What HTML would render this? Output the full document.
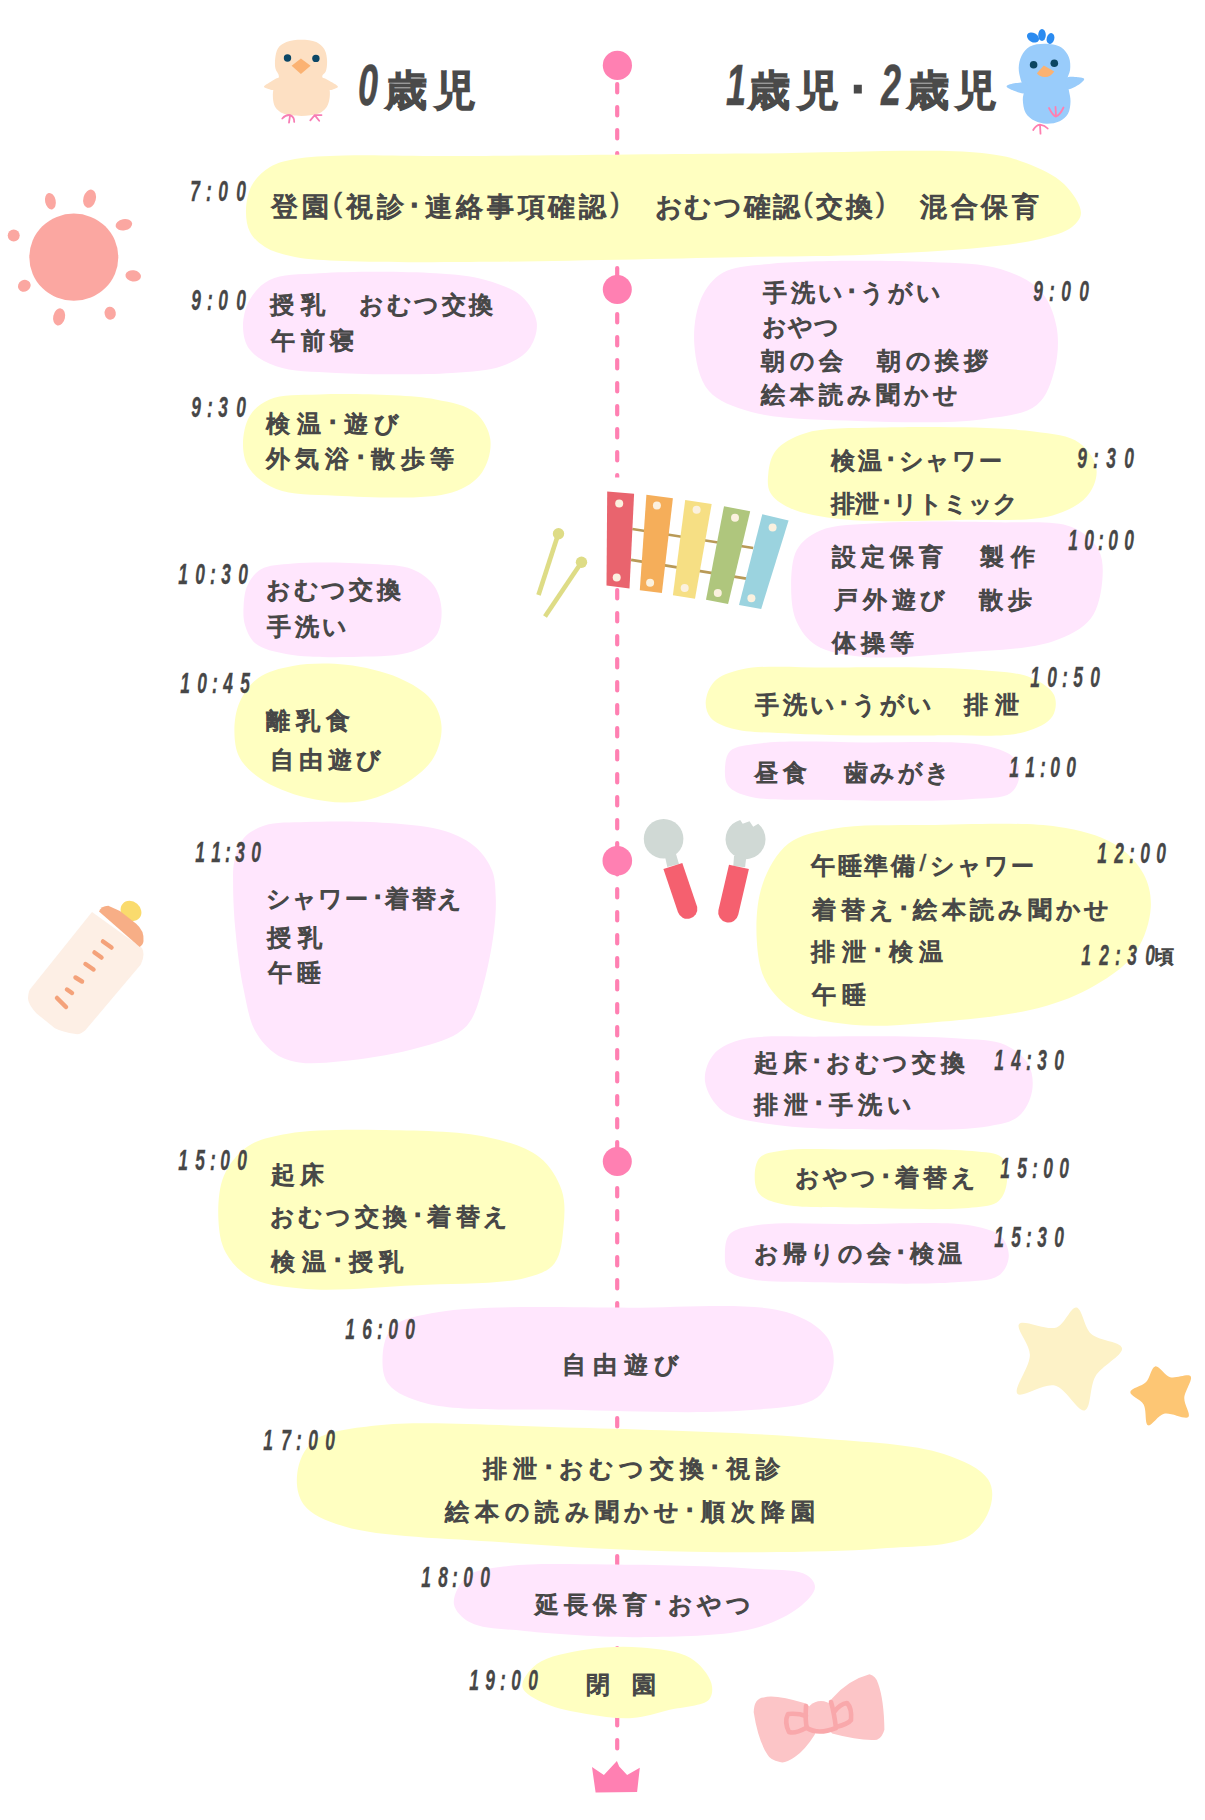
<!DOCTYPE html>
<html><head><meta charset="utf-8"><style>
@font-face{font-family:"Liberation Sans L";src:local("Liberation Sans"),local("LiberationSans");size-adjust:140%}
html,body{margin:0;padding:0;background:#fff}
body{width:1205px;height:1820px;position:relative;overflow:hidden;font-family:"Liberation Sans",sans-serif;color:#474747}
svg{position:absolute;left:0;top:0}
.t i,.d i,.h i{position:absolute;font-style:normal;width:60px;text-align:center;line-height:1;white-space:nowrap}
.t i,.h i{font-family:"Liberation Sans L","Liberation Sans",sans-serif;-webkit-text-stroke:1.2px #474747}
.t i.p{font-family:"Liberation Sans",sans-serif;-webkit-text-stroke:0.5px #474747}
.d i{font-style:italic;font-weight:bold;transform:scaleX(.6);-webkit-text-stroke:0.3px #474747}
.h i{-webkit-text-stroke:2.4px #4a4a4a;color:#4a4a4a}
.h i.n{font-family:"Liberation Sans",sans-serif;font-weight:bold;font-style:italic;font-size:58px;transform:scaleX(.62);-webkit-text-stroke:0.5px #4a4a4a}
</style></head><body>
<svg width="1205" height="1820" viewBox="0 0 1205 1820">
<path d="M617.2,84.1 V1752" stroke="#FF80B2" stroke-width="4.2" stroke-linecap="round" stroke-dasharray="8.3 14.7" fill="none"/><rect x="608" y="477.5" width="18" height="14" fill="#fff"/>
<g fill="#FF80B2"><circle cx="617.4" cy="65.4" r="14.6"/><circle cx="617.3" cy="289.4" r="14.5"/><circle cx="617.3" cy="860.8" r="14.8"/><circle cx="617.3" cy="1161.4" r="14.5"/>
<path d="M592,1767.1 L603.9,1775 L616.9,1761.1 L619.2,1766.4 L627.1,1775 L639.8,1767.7 L637.1,1792 L595.6,1792.6Z"/></g>
<path fill="#FFFFC1" d="M246.0,210.0 C246.2,201.9 248.0,192.2 252.0,185.0 C256.0,177.9 262.9,171.3 270.0,167.0 C277.2,162.6 285.1,160.9 295.0,159.0 C308.5,156.4 324.5,156.1 344.0,155.5 C372.6,154.5 405.7,156.1 450.0,156.0 C524.6,155.9 656.4,154.0 750.0,153.5 C832.3,153.1 935.3,147.8 982.0,153.0 C1002.6,155.3 1012.2,157.7 1026.0,163.0 C1039.5,168.2 1054.6,174.9 1064.0,184.0 C1072.2,192.0 1081.2,205.1 1081.0,213.0 C1080.9,218.5 1076.8,223.1 1072.0,227.0 C1065.1,232.6 1052.4,235.8 1040.0,239.0 C1023.7,243.2 1004.7,245.1 982.0,247.5 C950.0,250.8 904.7,253.1 866.0,254.7 C827.4,256.3 797.1,256.1 750.0,257.0 C676.9,258.4 544.9,261.6 470.0,262.0 C419.7,262.2 376.2,262.4 344.0,261.0 C323.9,260.1 309.2,259.9 295.0,257.0 C283.6,254.7 272.9,251.9 265.0,247.0 C258.6,243.0 253.2,238.1 250.0,232.0 C246.7,225.8 245.8,217.5 246.0,210.0Z"/><path fill="#FFE6FD" d="M243.0,326.4 C242.9,317.9 245.3,307.5 249.7,299.8 C254.1,292.0 260.5,284.5 269.6,280.0 C281.8,274.0 299.3,274.6 319.4,273.3 C350.0,271.3 405.0,271.3 435.6,273.3 C455.7,274.6 470.4,275.7 485.4,280.0 C498.8,283.8 513.2,288.5 521.9,296.5 C529.5,303.5 535.8,313.9 536.8,323.0 C537.7,331.7 534.0,342.5 528.5,349.6 C522.7,357.1 512.7,362.1 502.0,366.0 C488.4,370.9 472.2,371.5 452.0,372.9 C421.4,375.0 368.3,374.7 336.0,372.9 C312.8,371.6 291.7,371.6 276.2,366.2 C265.0,362.3 255.2,356.9 249.7,349.6 C244.9,343.2 243.1,334.4 243.0,326.4Z"/><path fill="#FFFFC1" d="M243.0,445.9 C242.7,436.6 244.9,423.9 249.7,416.0 C254.1,408.7 260.7,403.1 269.6,399.4 C281.9,394.2 299.3,395.0 319.4,394.4 C350.0,393.5 407.3,394.2 435.6,399.4 C452.6,402.5 466.1,405.0 475.4,412.7 C483.3,419.2 489.0,429.7 490.3,439.3 C491.7,449.5 488.2,463.6 482.0,472.4 C475.6,481.4 466.1,487.9 452.0,492.4 C426.6,500.5 368.3,497.0 336.0,495.7 C312.8,494.7 291.5,495.1 276.2,489.0 C264.8,484.5 255.2,477.0 249.7,469.0 C245.0,462.2 243.3,454.1 243.0,445.9Z"/><path fill="#FFE6FD" d="M243.6,606.4 C244.0,599.5 244.6,591.3 247.6,585.0 C250.5,578.9 254.7,572.8 261.0,569.2 C268.8,564.7 279.7,564.5 292.8,563.4 C313.3,561.6 350.4,562.5 372.4,564.0 C388.0,565.1 401.5,564.8 412.3,569.2 C421.0,572.7 428.6,578.3 433.5,585.0 C438.3,591.6 441.0,600.7 441.5,609.0 C442.0,617.6 440.9,628.6 436.2,635.6 C431.4,642.8 422.4,647.9 412.3,651.5 C398.5,656.4 378.2,656.2 359.2,656.8 C337.1,657.5 306.4,657.6 287.5,654.2 C274.5,651.9 262.8,649.5 255.6,643.6 C249.9,638.9 247.0,631.4 245.0,625.0 C243.2,619.0 243.2,612.8 243.6,606.4Z"/><path fill="#FFFFC1" d="M234.4,731.2 C234.3,721.7 235.8,710.8 239.7,702.0 C243.7,693.1 250.1,683.9 258.3,678.0 C267.3,671.5 279.9,668.3 292.8,666.0 C308.4,663.2 328.3,662.9 345.9,664.8 C363.7,666.8 384.0,671.4 399.0,678.0 C411.5,683.5 423.8,690.5 430.9,699.3 C437.1,706.9 440.9,716.5 441.5,725.9 C442.2,735.9 439.1,748.4 433.5,757.8 C427.3,768.1 415.9,777.2 404.3,784.3 C391.5,792.2 375.1,799.3 359.2,801.6 C342.5,804.1 322.7,801.6 306.0,797.6 C290.1,793.8 272.7,786.8 261.0,779.0 C251.8,772.9 244.1,766.0 239.7,757.8 C235.5,750.0 234.5,740.3 234.4,731.2Z"/><path fill="#FFE6FD" d="M233.1,884.7 C233.1,875.6 232.6,869.1 234.3,861.5 C236.0,853.6 238.5,844.2 243.6,838.2 C248.6,832.3 255.9,828.3 264.5,825.5 C275.7,821.9 290.1,822.6 306.3,822.0 C328.9,821.2 362.9,821.2 387.7,823.1 C408.7,824.7 429.8,826.1 445.7,831.3 C457.8,835.3 468.1,840.5 476.0,847.5 C483.2,853.9 488.9,862.4 492.2,870.8 C495.3,878.8 495.3,887.4 495.7,896.3 C496.2,905.9 495.7,915.2 494.5,926.5 C492.9,941.4 489.3,961.6 485.2,977.7 C481.4,992.5 477.3,1009.8 471.3,1019.5 C467.3,1026.0 464.0,1029.2 457.4,1033.4 C446.9,1040.0 428.2,1045.3 410.9,1049.7 C390.2,1055.0 361.5,1059.3 341.2,1061.3 C325.6,1062.8 311.2,1064.3 299.4,1062.5 C290.4,1061.1 283.1,1059.0 276.1,1054.3 C268.2,1049.0 260.5,1040.7 255.2,1031.1 C249.0,1019.8 246.8,1004.5 243.6,989.3 C239.9,971.6 237.2,949.5 235.5,931.2 C233.9,914.9 233.1,897.5 233.1,884.7Z"/><path fill="#FFFFC1" d="M218.4,1219.5 C217.8,1206.0 218.6,1188.2 223.9,1175.7 C228.8,1164.2 237.4,1153.5 247.6,1146.5 C258.4,1139.1 271.5,1136.6 287.8,1133.7 C311.8,1129.5 347.2,1129.6 379.0,1130.0 C413.9,1130.5 459.3,1130.8 488.6,1137.4 C509.3,1142.0 527.3,1147.4 539.8,1157.5 C550.4,1166.0 557.8,1178.5 561.7,1190.3 C565.5,1201.7 564.7,1214.7 563.5,1226.8 C562.3,1239.1 561.3,1254.8 554.4,1263.4 C548.0,1271.4 538.5,1274.4 525.2,1278.0 C500.8,1284.6 452.1,1283.5 415.6,1285.3 C379.1,1287.1 336.1,1291.5 306.0,1289.0 C284.5,1287.2 265.3,1285.5 251.3,1278.0 C240.0,1272.0 231.2,1262.4 225.7,1252.4 C220.4,1242.8 219.0,1231.3 218.4,1219.5Z"/><path fill="#FFE6FD" d="M701.4,297.8 C706.2,287.4 713.0,278.5 722.8,272.8 C734.5,266.0 749.0,265.9 769.2,263.9 C806.5,260.1 887.0,260.2 929.8,262.1 C958.4,263.4 981.4,263.2 1001.2,269.3 C1016.8,274.1 1031.1,280.7 1040.4,290.7 C1049.1,300.1 1054.0,313.6 1056.5,326.4 C1059.1,339.7 1058.1,355.9 1054.7,369.2 C1051.4,382.0 1047.0,396.6 1036.8,404.9 C1024.8,414.7 1005.1,416.2 983.3,419.2 C950.6,423.7 898.4,422.3 858.4,420.9 C821.3,419.6 778.5,419.6 751.4,412.0 C733.3,406.9 718.0,401.8 708.5,390.6 C698.9,379.3 695.4,359.8 694.3,344.2 C693.2,328.9 695.7,310.3 701.4,297.8Z"/><path fill="#FFFFC1" d="M768.3,473.4 C769.1,466.0 770.8,456.9 775.9,450.5 C781.9,443.0 792.1,437.3 804.5,433.4 C823.3,427.4 851.0,428.4 880.9,427.6 C923.1,426.5 997.8,426.6 1033.6,431.5 C1053.5,434.2 1068.7,435.2 1079.4,442.9 C1088.2,449.2 1095.5,460.4 1096.5,469.6 C1097.5,478.3 1093.2,489.0 1087.0,496.3 C1079.7,504.9 1067.6,511.1 1052.6,515.4 C1029.3,522.0 990.5,519.3 957.2,520.0 C920.8,520.8 873.5,522.7 842.7,519.3 C821.4,517.0 802.1,513.9 789.3,507.8 C780.7,503.7 773.6,498.7 770.2,492.5 C767.2,487.0 767.6,480.0 768.3,473.4Z"/><path fill="#FFE6FD" d="M791.2,591.8 C790.9,578.9 791.1,560.3 796.9,549.8 C801.8,541.0 809.5,535.2 819.8,530.7 C834.6,524.3 857.3,524.6 880.9,523.0 C913.1,520.9 961.1,521.4 995.4,522.3 C1023.4,523.1 1053.6,519.6 1071.7,526.9 C1084.0,531.9 1093.5,540.5 1098.5,549.8 C1103.2,558.5 1103.2,569.7 1102.3,580.3 C1101.3,592.4 1098.6,608.4 1090.8,618.5 C1082.5,629.1 1068.9,635.8 1052.6,641.4 C1028.6,649.6 989.1,650.4 957.2,652.9 C925.5,655.4 887.7,659.4 861.8,656.7 C843.6,654.8 827.2,652.2 816.0,645.2 C807.1,639.6 801.0,631.1 796.9,622.3 C792.7,613.3 791.5,602.8 791.2,591.8Z"/><path fill="#FFFFC1" d="M705.7,702.3 C705.9,695.8 709.1,686.8 714.4,681.4 C720.5,675.2 730.1,671.9 742.3,669.2 C763.0,664.7 797.0,667.5 829.4,667.4 C870.4,667.2 931.5,666.4 968.8,669.2 C993.9,671.1 1016.5,671.6 1031.6,677.9 C1041.7,682.2 1051.1,688.2 1054.2,695.3 C1056.9,701.3 1056.2,710.5 1052.5,716.2 C1048.0,723.3 1037.1,728.4 1024.6,731.9 C1003.5,737.9 967.4,735.0 934.0,735.4 C892.5,735.9 831.9,735.5 794.6,733.7 C769.5,732.5 746.8,732.6 731.8,728.4 C722.6,725.8 715.2,723.0 710.9,718.0 C707.3,713.8 705.5,707.9 705.7,702.3Z"/><path fill="#FFE6FD" d="M724.9,770.3 C725.1,764.2 725.6,755.6 730.1,751.1 C735.7,745.6 746.7,745.1 759.7,743.4 C783.8,740.2 828.1,742.1 864.3,742.4 C903.4,742.8 960.3,740.1 986.3,745.9 C999.3,748.8 1008.9,752.0 1014.2,758.0 C1018.3,762.7 1019.9,769.8 1019.4,775.5 C1018.9,781.4 1016.3,788.9 1010.7,792.9 C1002.5,798.9 986.9,797.8 968.8,799.2 C936.0,801.7 869.5,800.7 829.4,799.9 C799.0,799.3 767.1,801.0 749.3,796.4 C739.7,793.9 732.2,790.9 728.3,785.9 C725.1,781.7 724.8,775.8 724.9,770.3Z"/><path fill="#FFFFC1" d="M756.8,940.7 C755.7,923.6 756.7,901.3 762.4,884.7 C767.7,869.2 776.5,852.9 788.5,843.6 C800.3,834.4 815.5,832.0 833.4,828.7 C858.6,824.1 893.0,825.4 926.7,825.0 C966.6,824.5 1023.2,821.5 1057.4,826.8 C1080.3,830.3 1098.5,834.7 1113.4,843.6 C1126.1,851.2 1137.1,862.2 1143.3,873.5 C1148.9,883.7 1151.4,895.2 1150.8,907.1 C1150.1,921.1 1144.6,939.1 1135.8,951.9 C1126.4,965.5 1110.3,976.3 1094.8,985.5 C1078.2,995.3 1061.0,1002.0 1038.7,1007.9 C1008.2,1015.9 960.3,1020.3 926.7,1022.9 C899.4,1025.1 875.0,1027.1 852.0,1024.7 C831.9,1022.6 810.9,1020.0 796.0,1011.7 C783.2,1004.6 772.6,993.6 766.1,981.8 C759.6,970.0 757.7,955.5 756.8,940.7Z"/><path fill="#FFE6FD" d="M705.0,1081.4 C703.9,1072.5 707.7,1061.7 713.2,1054.9 C719.0,1047.7 728.0,1043.4 739.8,1040.0 C759.4,1034.5 791.9,1037.0 822.8,1036.6 C861.9,1036.1 922.0,1035.8 955.6,1038.3 C976.2,1039.8 992.6,1039.3 1005.4,1045.0 C1015.4,1049.5 1024.2,1056.7 1028.6,1064.8 C1032.7,1072.4 1033.6,1082.9 1032.0,1091.4 C1030.4,1100.1 1025.5,1110.5 1018.6,1116.3 C1011.3,1122.4 1001.9,1123.9 988.8,1126.2 C965.5,1130.4 923.7,1129.8 889.2,1129.6 C852.0,1129.4 803.4,1129.3 773.0,1124.6 C752.7,1121.5 734.7,1119.9 723.2,1111.3 C713.7,1104.2 706.2,1091.3 705.0,1081.4Z"/><path fill="#FFFFC1" d="M754.7,1177.7 C754.6,1171.4 755.4,1162.3 759.7,1157.8 C764.4,1152.9 772.9,1152.1 783.0,1150.5 C800.4,1147.7 828.9,1149.5 856.0,1149.5 C890.3,1149.5 946.3,1148.0 972.2,1151.1 C985.5,1152.7 996.3,1152.1 1002.0,1157.8 C1007.0,1162.8 1007.7,1173.7 1007.0,1181.0 C1006.4,1188.0 1003.9,1196.5 998.7,1200.9 C992.9,1205.9 984.3,1206.1 972.2,1207.6 C947.3,1210.7 890.2,1208.4 856.0,1207.6 C828.8,1207.0 800.3,1208.3 783.0,1204.3 C772.8,1202.0 764.3,1199.5 759.7,1194.3 C755.9,1190.0 754.8,1183.5 754.7,1177.7Z"/><path fill="#FFE6FD" d="M724.9,1254.0 C725.0,1247.7 725.4,1238.8 729.8,1234.1 C734.9,1228.5 744.5,1227.2 756.4,1225.2 C778.8,1221.4 821.5,1224.1 856.0,1224.2 C893.2,1224.3 946.5,1220.8 972.2,1225.8 C985.7,1228.4 996.0,1231.1 1002.0,1237.4 C1006.8,1242.5 1009.3,1251.0 1008.7,1257.4 C1008.1,1263.7 1004.7,1271.4 998.7,1275.6 C990.0,1281.7 974.0,1280.9 955.6,1282.3 C923.5,1284.8 860.5,1283.2 822.8,1282.3 C794.8,1281.7 766.7,1282.6 749.8,1279.0 C740.3,1277.0 732.2,1275.4 728.2,1270.6 C724.8,1266.5 724.8,1259.8 724.9,1254.0Z"/><path fill="#FFE6FD" d="M382.5,1359.4 C382.7,1349.4 384.5,1335.5 392.0,1327.8 C401.2,1318.3 417.8,1315.7 439.2,1312.0 C480.9,1304.7 568.2,1307.6 628.4,1307.7 C683.4,1307.8 751.5,1301.7 786.1,1312.0 C805.2,1317.7 819.6,1326.8 827.1,1337.3 C832.9,1345.5 834.6,1356.2 833.4,1365.7 C832.1,1376.2 827.2,1389.8 817.6,1397.2 C804.6,1407.1 781.4,1407.1 754.6,1409.8 C708.6,1414.4 623.6,1411.1 565.4,1409.8 C515.5,1408.7 457.8,1411.6 426.6,1403.5 C409.4,1399.0 395.8,1393.4 388.8,1384.6 C383.3,1377.7 382.3,1368.2 382.5,1359.4Z"/><path fill="#FFFFC1" d="M297.3,1472.9 C298.7,1462.1 303.5,1449.1 313.1,1441.4 C326.1,1431.0 349.2,1428.8 376.1,1425.6 C422.0,1420.2 497.8,1425.7 565.4,1427.5 C643.5,1429.5 748.0,1432.4 817.6,1438.2 C867.0,1442.3 913.2,1443.8 943.8,1454.0 C963.1,1460.4 981.1,1468.8 988.0,1479.2 C992.9,1486.6 993.1,1495.9 991.0,1504.4 C988.4,1514.8 981.1,1528.5 969.0,1536.0 C950.6,1547.3 915.8,1545.8 880.7,1548.6 C829.6,1552.6 754.5,1552.7 691.5,1551.7 C628.4,1550.7 562.4,1546.8 502.3,1542.3 C447.3,1538.2 379.4,1537.2 344.6,1526.5 C325.7,1520.7 311.2,1514.6 303.6,1504.4 C297.3,1495.9 295.9,1483.2 297.3,1472.9Z"/><path fill="#FFE6FD" d="M453.9,1603.9 C452.8,1596.1 459.1,1583.2 466.4,1577.0 C474.7,1569.9 488.0,1568.9 503.7,1566.6 C529.5,1562.8 570.0,1564.3 607.5,1564.5 C651.9,1564.7 716.1,1566.1 752.7,1568.7 C775.1,1570.3 796.9,1569.0 806.6,1574.9 C811.7,1578.0 815.2,1582.7 815.0,1587.3 C814.8,1593.4 806.2,1602.0 798.3,1608.1 C787.5,1616.5 771.5,1623.9 752.7,1628.8 C725.6,1635.8 685.2,1636.6 649.0,1637.1 C609.4,1637.7 557.4,1634.2 524.5,1630.9 C502.7,1628.7 482.6,1629.2 470.5,1622.6 C462.3,1618.1 455.0,1611.1 453.9,1603.9Z"/><path fill="#FFFFC1" d="M522.4,1686.9 C521.2,1680.4 529.1,1670.0 536.9,1664.1 C547.7,1656.0 569.6,1652.4 586.7,1649.6 C604.2,1646.8 623.2,1646.0 640.7,1647.5 C657.7,1648.9 678.3,1650.6 690.5,1657.9 C700.2,1663.7 708.9,1674.9 711.2,1682.8 C712.9,1688.5 712.8,1695.2 709.1,1699.4 C703.3,1706.0 682.7,1706.7 669.7,1709.8 C657.1,1712.8 645.5,1717.2 632.4,1718.0 C618.0,1718.9 601.5,1716.4 586.7,1713.9 C572.4,1711.5 556.6,1708.8 545.2,1703.5 C536.0,1699.2 523.7,1693.6 522.4,1686.9Z"/>
<g id="sun" fill="#FBA7A1">
<ellipse cx="73.8" cy="257.2" rx="44.5" ry="43.6"/>
<ellipse cx="50.4" cy="201.2" rx="5.3" ry="8.4" transform="rotate(-12 50.4 201.2)"/>
<ellipse cx="89.6" cy="198.7" rx="6.2" ry="9.3" transform="rotate(15 89.6 198.7)"/>
<ellipse cx="123.9" cy="224.8" rx="8.4" ry="5.6" transform="rotate(-10 123.9 224.8)"/>
<ellipse cx="13.7" cy="235.4" rx="6" ry="6"/>
<ellipse cx="133.2" cy="275.9" rx="7.8" ry="5.6" transform="rotate(8 133.2 275.9)"/>
<ellipse cx="24.3" cy="285.8" rx="6.5" ry="5.8" transform="rotate(-30 24.3 285.8)"/>
<ellipse cx="59.1" cy="316.9" rx="5.9" ry="8.7" transform="rotate(12 59.1 316.9)"/>
<ellipse cx="110.2" cy="313.2" rx="5.6" ry="6.5" transform="rotate(-10 110.2 313.2)"/>
</g>
<g id="chick">
<path fill="#FDE0C3" d="M301.3,39.7 C306.3,39.7 312.2,40.1 316.2,42.0 C319.7,43.6 322.7,46.3 324.5,49.4 C326.4,52.7 327.0,57.5 327.1,61.4 C327.2,65.0 326.7,69.2 325.6,71.8 C324.8,73.7 322.3,74.5 322.2,76.3 C322.1,79.0 327.7,83.1 328.9,86.8 C330.0,90.1 330.1,93.8 329.7,97.2 C329.3,100.5 328.5,104.2 326.7,106.9 C324.8,109.7 322.0,112.1 318.5,113.6 C314.0,115.5 307.1,115.9 301.3,115.9 C295.4,115.9 288.0,115.6 283.4,113.6 C279.9,112.1 276.9,109.7 275.2,106.9 C273.5,104.2 273.1,100.5 272.9,97.2 C272.7,93.8 273.1,90.2 274.0,86.8 C275.0,83.2 278.9,79.5 278.9,76.3 C278.9,73.6 276.1,71.6 275.5,68.8 C274.8,65.7 274.8,61.8 275.2,58.4 C275.6,54.9 276.3,50.7 278.2,47.9 C280.1,45.2 283.1,43.4 286.4,42.0 C290.5,40.3 296.3,39.7 301.3,39.7Z"/><path fill="#FDE0C3" d="M264.0,86.8 C263.9,85.6 267.7,83.7 269.9,82.3 C272.5,80.7 277.9,76.9 278.9,77.8 C280.0,78.8 276.7,88.3 274.4,89.7 C272.8,90.7 270.2,89.5 268.4,89.0 C266.8,88.5 264.1,87.8 264.0,86.8Z"/><path fill="#FDE0C3" d="M337.9,86.8 C338.0,85.6 334.2,83.7 331.9,82.3 C329.1,80.6 323.0,76.9 322.2,77.8 C321.3,78.8 326.3,88.4 328.9,89.7 C330.5,90.5 332.6,89.5 334.2,89.0 C335.6,88.5 337.9,87.7 337.9,86.8Z"/>
<circle cx="287.5" cy="58" r="3.7" fill="#0C4766"/><circle cx="315.9" cy="58.4" r="3.7" fill="#0C4766"/>
<path d="M300.9,58.4 L310.6,65.8 L300.9,74 L291.6,65.8Z" fill="#FBB272"/>
<g stroke="#F77DB4" stroke-width="1.8" fill="none" stroke-linecap="round">
<path d="M282.3,118.5 Q286,114.5 290.1,115.1 Q294.5,117 294.2,121.9 M290.1,115.1 L289,122.6"/>
<path d="M310.3,120.4 L314.7,115.1 L321.5,115.1 M314.7,115.1 L319.2,120.7"/>
</g>
</g>
<g id="bird">
<g fill="#2B8BF0">
<ellipse cx="1033" cy="37.5" rx="6.5" ry="4.5" transform="rotate(30 1033 37.5)"/>
<ellipse cx="1042" cy="35" rx="3.8" ry="6" />
<ellipse cx="1050.5" cy="38.5" rx="3.8" ry="5.5" transform="rotate(15 1050.5 38.5)"/>
</g>
<path fill="#99CCFB" d="M1044.4,43.7 C1049.8,43.7 1057.2,44.7 1061.4,47.4 C1064.9,49.7 1067.4,53.6 1068.9,57.3 C1070.4,61.0 1070.5,65.9 1070.1,69.8 C1069.8,73.4 1067.4,76.4 1067.2,79.8 C1067.0,83.3 1068.4,86.9 1068.9,90.5 C1069.5,94.1 1070.6,97.6 1070.5,101.3 C1070.4,105.3 1069.9,110.4 1068.0,113.8 C1066.2,117.0 1063.1,119.5 1059.7,121.2 C1056.0,123.0 1050.8,123.8 1046.5,123.7 C1042.5,123.6 1038.3,122.6 1034.8,120.8 C1031.3,119.0 1027.7,116.3 1025.7,112.9 C1023.6,109.3 1023.0,103.8 1022.8,99.7 C1022.6,96.2 1024.3,93.0 1024.0,89.7 C1023.7,86.4 1021.6,83.3 1020.7,79.8 C1019.8,76.1 1018.6,72.0 1018.7,68.1 C1018.8,64.0 1019.7,59.3 1021.6,55.7 C1023.5,52.2 1026.3,48.6 1029.9,46.6 C1033.8,44.4 1039.4,43.7 1044.4,43.7Z"/><path fill="#99CCFB" d="M1006.6,86.4 C1006.7,85.1 1012.5,83.6 1015.7,83.1 C1019.1,82.6 1025.0,81.7 1026.5,83.5 C1027.9,85.2 1026.8,91.7 1024.9,93.0 C1022.8,94.5 1016.5,91.8 1013.3,90.5 C1010.7,89.4 1006.5,87.6 1006.6,86.4Z"/><path fill="#99CCFB" d="M1084.2,78.9 C1083.9,77.8 1080.4,77.5 1078.0,77.3 C1074.8,77.0 1068.0,76.1 1066.4,78.1 C1064.8,80.1 1066.1,87.7 1068.0,88.9 C1069.8,90.0 1074.5,87.3 1077.2,85.6 C1079.9,83.9 1084.6,80.3 1084.2,78.9Z"/>
<circle cx="1033.6" cy="64.8" r="3.8" fill="#0B4662"/><circle cx="1054.3" cy="63.2" r="3.8" fill="#0B4662"/>
<path d="M1043.8,65.5 L1054.3,71.5 Q1050,77.5 1044.5,77 Q1040,77 1036.9,73.2Z" fill="#FBB272"/>
<g stroke="#FF7FB0" stroke-width="1.8" fill="none" stroke-linecap="round">
<path d="M1049,108 Q1053,116 1056,116.5 Q1060,115 1063.5,107.5 M1056,116.5 L1055.5,107"/>
<path d="M1033.2,130 Q1036,125 1040,124.6 Q1045,125.5 1047.7,128.5 M1040,124.6 L1040.5,133.7"/>
</g>
</g>
<g id="mallets" stroke="#DEDC86" stroke-width="4.6" fill="#DEDC86">
<line x1="557.6" y1="536" x2="538.5" y2="595"/><circle cx="558.5" cy="533.8" r="5.7" stroke="none"/>
<line x1="580" y1="564.5" x2="545" y2="616.5"/><circle cx="581.5" cy="562.2" r="5.7" stroke="none"/>
</g>
<g id="xylo">
<g stroke="#B99A57" stroke-width="2.6"><line x1="632.3" y1="529" x2="753.2" y2="548"/><line x1="631.1" y1="559.9" x2="746.4" y2="578.6"/></g>
<path fill="#E9646E" d="M607.2,491.4 L634.1,493.7 L629.5,588.4 L606.5,585.4Z"/>
<path fill="#F5AE5A" d="M646.4,494.8 L672.9,498.3 L661.9,593 L639.8,590.2Z"/>
<path fill="#F6DF84" d="M685.2,500 L711.7,504 L695,598.7 L672.9,595.2Z"/>
<path fill="#AFC67D" d="M724,506.2 L750.2,511.3 L728.1,603.9 L706,599.8Z"/>
<path fill="#9BD3DF" d="M762.3,514.2 L788.6,520.6 L761.2,608.9 L739,605Z"/>
<g fill="#FBF1DF">
<circle cx="619.2" cy="503.5" r="4"/><circle cx="616.7" cy="577.4" r="4"/>
<circle cx="656.9" cy="505.6" r="4"/><circle cx="650.1" cy="582.7" r="4"/>
<circle cx="696.6" cy="509.7" r="4"/><circle cx="684.7" cy="587.9" r="4"/>
<circle cx="735" cy="517.7" r="4"/><circle cx="717.8" cy="593" r="4"/>
<circle cx="772.6" cy="527.5" r="4"/><circle cx="751.4" cy="598.2" r="4"/>
</g>
</g>
<g id="cutlery">
<g fill="#D0D9D5">
<circle cx="663.6" cy="838.8" r="19.8"/>
<path d="M664.9,856 L675.4,852 L679,864 L667.3,867Z"/>
<path d="M740.2,819.9 L742.7,823.7 L749.5,821.2 L753.2,826.8 L758.2,823.7 A20,20 0 1,1 740.2,819.9Z"/>
<path d="M734,856 L746.4,856 L745.1,867.2 L733.3,866Z"/>
</g>
<path fill="#F5606F" d="M663.4,869.1 L682.3,862.9 L697.2,907.1 A10,10 0 0,1 677.9,912.1Z"/>
<path fill="#F5606F" d="M729,864.8 L748.9,869.1 L738.3,914.5 A10,10 0 0,1 718.4,910.2Z"/>
</g>
<g id="bottle">
<path fill="#FDEFE5" d="M92,912 L142,948.1 Q145.5,955 140.8,964.4 L85.1,1030.6 Q80,1035 75.8,1034.1 Q62,1032 54.9,1028.3 L36.3,1013.2 Q27,1003 28.1,996.9 Q28.5,991 30.5,988.8Z"/>
<ellipse cx="131" cy="911" rx="11" ry="9.5" transform="rotate(40 131 911)" fill="#FADB6D"/>
<path fill="#F7AE86" d="M99,911.5 Q101,906 108.3,905.7 L119.9,910.9 L136.2,923.7 Q144.5,930.7 143.5,941.1 Q143,945.2 139.7,946.9Z"/>
<g stroke="#F4A27A" stroke-width="4.5" stroke-linecap="round">
<line x1="103" y1="941.5" x2="111.5" y2="947.5"/>
<line x1="94.5" y1="952.5" x2="101.5" y2="957.5"/>
<line x1="85.5" y1="964" x2="93.5" y2="969.5"/>
<line x1="75.5" y1="977.5" x2="82" y2="981.5"/>
<line x1="67" y1="989.5" x2="72" y2="993"/>
<line x1="57" y1="998" x2="66" y2="1007"/>
</g>
</g>
<g id="stars"><path fill="#FDF2C7" d="M1076.4,1307.4 C1082.3,1308.3 1084.0,1327.3 1091.3,1334.0 C1099.0,1341.1 1120.7,1341.4 1122.0,1348.1 C1123.4,1355.3 1101.7,1365.7 1095.5,1376.3 C1089.5,1386.5 1091.2,1408.5 1084.7,1410.4 C1077.9,1412.3 1066.1,1388.2 1054.8,1385.5 C1043.6,1382.7 1021.8,1398.5 1017.4,1393.8 C1012.9,1388.8 1030.1,1366.9 1029.9,1354.8 C1029.7,1343.9 1015.4,1328.8 1019.1,1324.0 C1023.1,1318.9 1046.6,1331.0 1056.5,1327.4 C1065.0,1324.3 1070.6,1306.7 1076.4,1307.4Z"/><path fill="#FDC674" d="M1155.2,1366.4 C1159.2,1365.5 1164.4,1375.4 1170.1,1377.2 C1176.1,1379.0 1188.0,1373.1 1190.6,1376.3 C1193.2,1379.7 1184.5,1391.2 1184.3,1398.2 C1184.1,1404.7 1191.0,1414.1 1188.4,1417.0 C1185.4,1420.2 1171.0,1411.9 1164.0,1413.7 C1157.8,1415.2 1151.5,1426.6 1148.1,1425.3 C1144.5,1423.9 1146.8,1410.2 1143.6,1404.5 C1140.6,1399.3 1130.0,1395.8 1130.3,1392.1 C1130.7,1388.3 1141.9,1386.5 1146.1,1382.1 C1150.2,1377.9 1151.2,1367.2 1155.2,1366.4Z"/></g>
<g id="bow">
<path fill="#FCC5C7" d="M753.7,1712.3 Q754,1698 763.7,1697.4 Q775,1694 806,1703.6 L820,1716 L814.7,1734.7 Q805,1750 794.8,1757.1 Q785,1764 779.9,1762.1 Q770,1760 767.4,1754.6 Q758,1740 753.7,1712.3Z"/>
<path fill="#FCC5C7" d="M832.1,1698.6 Q848,1680 869.5,1674.3 Q876,1676 878.2,1683.7 Q884,1700 884.4,1729.7 Q882,1738 877,1739.7 Q860,1741 832.1,1733.5 L818,1716Z"/>
<circle cx="821" cy="1716.5" r="15.5" fill="#FCC5C7"/>
<g stroke="#F9A8AB" stroke-width="4.6" fill="none" stroke-linecap="round" stroke-linejoin="round">
<path d="M806,1706 Q805,1722 807,1728 Q818,1735 836,1728 Q834,1712 831,1702"/>
<path d="M806,1728 Q795,1734 789,1732 Q784,1722 788,1714 Q798,1713 806,1716"/>
<path d="M836,1727 Q848,1724 851,1720 Q852,1708 847,1703 Q840,1704 834,1712"/>
</g>
</g>

</svg>
<div class="h" style="font-size:42px"><i class="n" style="left:337.8px;top:56px">0</i><i style="left:375.5px;top:64px">歳</i><i style="left:425.4px;top:64px">児</i><i class="n" style="left:705.5px;top:56px">1</i><i style="left:739.1px;top:64px">歳</i><i style="left:788.2px;top:64px">児</i><i style="left:828.0px;top:64px">·</i><i class="n" style="left:861.1px;top:56px">2</i><i style="left:897.8px;top:64px">歳</i><i style="left:946.4px;top:64px">児</i></div>
<div class="t" style="font-size:27px"><i style="left:254.4px;top:189.5px">登</i><i style="left:285.2px;top:189.5px">園</i><i class="p" style="left:307.6px;top:189.5px">(</i><i style="left:329.9px;top:189.5px">視</i><i style="left:360.8px;top:189.5px">診</i><i style="left:384.7px;top:189.5px">·</i><i style="left:408.6px;top:189.5px">連</i><i style="left:439.4px;top:189.5px">絡</i><i style="left:470.2px;top:189.5px">事</i><i style="left:501.1px;top:189.5px">項</i><i style="left:531.9px;top:189.5px">確</i><i style="left:562.7px;top:189.5px">認</i><i class="p" style="left:585.1px;top:189.5px">)</i></div><div class="t" style="font-size:27px"><i style="left:638.7px;top:189.5px">お</i><i style="left:668.2px;top:189.5px">む</i><i style="left:697.7px;top:189.5px">つ</i><i style="left:727.2px;top:189.5px">確</i><i style="left:756.7px;top:189.5px">認</i><i class="p" style="left:778.1px;top:189.5px">(</i><i style="left:799.5px;top:189.5px">交</i><i style="left:829.0px;top:189.5px">換</i><i class="p" style="left:850.4px;top:189.5px">)</i></div><div class="t" style="font-size:27px"><i style="left:903.4px;top:189.5px">混</i><i style="left:934.1px;top:189.5px">合</i><i style="left:964.9px;top:189.5px">保</i><i style="left:995.6px;top:189.5px">育</i></div><div class="t" style="font-size:24px"><i style="left:252.2px;top:290.0px">授</i><i style="left:283.4px;top:290.0px">乳</i></div><div class="t" style="font-size:24px"><i style="left:341.6px;top:290.0px">お</i><i style="left:369.0px;top:290.0px">む</i><i style="left:396.4px;top:290.0px">つ</i><i style="left:423.9px;top:290.0px">交</i><i style="left:451.3px;top:290.0px">換</i></div><div class="t" style="font-size:24px"><i style="left:252.8px;top:326.0px">午</i><i style="left:282.5px;top:326.0px">前</i><i style="left:312.2px;top:326.0px">寝</i></div><div class="t" style="font-size:24px"><i style="left:248.3px;top:409.0px">検</i><i style="left:278.8px;top:409.0px">温</i><i style="left:302.5px;top:409.0px">·</i><i style="left:326.2px;top:409.0px">遊</i><i style="left:356.7px;top:409.0px">び</i></div><div class="t" style="font-size:24px"><i style="left:247.8px;top:444.0px">外</i><i style="left:277.4px;top:444.0px">気</i><i style="left:307.0px;top:444.0px">浴</i><i style="left:330.0px;top:444.0px">·</i><i style="left:353.0px;top:444.0px">散</i><i style="left:382.6px;top:444.0px">歩</i><i style="left:412.2px;top:444.0px">等</i></div><div class="t" style="font-size:24px"><i style="left:248.4px;top:575.0px">お</i><i style="left:276.1px;top:575.0px">む</i><i style="left:303.8px;top:575.0px">つ</i><i style="left:331.4px;top:575.0px">交</i><i style="left:359.1px;top:575.0px">換</i></div><div class="t" style="font-size:24px"><i style="left:248.6px;top:612.0px">手</i><i style="left:276.8px;top:612.0px">洗</i><i style="left:304.9px;top:612.0px">い</i></div><div class="t" style="font-size:24px"><i style="left:248.0px;top:706.0px">離</i><i style="left:278.0px;top:706.0px">乳</i><i style="left:308.0px;top:706.0px">食</i></div><div class="t" style="font-size:24px"><i style="left:251.5px;top:745.0px">自</i><i style="left:280.5px;top:745.0px">由</i><i style="left:309.5px;top:745.0px">遊</i><i style="left:338.5px;top:745.0px">び</i></div><div class="t" style="font-size:24px"><i style="left:248.1px;top:884.0px">シ</i><i style="left:274.3px;top:884.0px">ャ</i><i style="left:300.6px;top:884.0px">ワ</i><i style="left:326.8px;top:884.0px">–</i><i style="left:347.1px;top:884.0px">·</i><i style="left:367.4px;top:884.0px">着</i><i style="left:393.7px;top:884.0px">替</i><i style="left:419.9px;top:884.0px">え</i></div><div class="t" style="font-size:24px"><i style="left:248.7px;top:922.5px">授</i><i style="left:280.0px;top:922.5px">乳</i></div><div class="t" style="font-size:24px"><i style="left:249.8px;top:958.0px">午</i><i style="left:279.2px;top:958.0px">睡</i></div><div class="t" style="font-size:24px"><i style="left:252.8px;top:1160.0px">起</i><i style="left:282.2px;top:1160.0px">床</i></div><div class="t" style="font-size:24px"><i style="left:252.2px;top:1202.0px">お</i><i style="left:280.5px;top:1202.0px">む</i><i style="left:308.8px;top:1202.0px">つ</i><i style="left:337.1px;top:1202.0px">交</i><i style="left:365.4px;top:1202.0px">換</i><i style="left:387.3px;top:1202.0px">·</i><i style="left:409.2px;top:1202.0px">着</i><i style="left:437.5px;top:1202.0px">替</i><i style="left:465.8px;top:1202.0px">え</i></div><div class="t" style="font-size:24px"><i style="left:253.2px;top:1247.0px">検</i><i style="left:283.5px;top:1247.0px">温</i><i style="left:307.0px;top:1247.0px">·</i><i style="left:330.5px;top:1247.0px">授</i><i style="left:360.8px;top:1247.0px">乳</i></div><div class="t" style="font-size:24px"><i style="left:744.8px;top:278.0px">手</i><i style="left:772.5px;top:278.0px">洗</i><i style="left:800.1px;top:278.0px">い</i><i style="left:821.5px;top:278.0px">·</i><i style="left:842.9px;top:278.0px">う</i><i style="left:870.5px;top:278.0px">が</i><i style="left:898.2px;top:278.0px">い</i></div><div class="t" style="font-size:24px"><i style="left:744.2px;top:311.5px">お</i><i style="left:770.5px;top:311.5px">や</i><i style="left:796.8px;top:311.5px">つ</i></div><div class="t" style="font-size:24px"><i style="left:743.4px;top:345.5px">朝</i><i style="left:772.2px;top:345.5px">の</i><i style="left:801.0px;top:345.5px">会</i></div><div class="t" style="font-size:24px"><i style="left:859.4px;top:345.5px">朝</i><i style="left:888.1px;top:345.5px">の</i><i style="left:916.9px;top:345.5px">挨</i><i style="left:945.6px;top:345.5px">拶</i></div><div class="t" style="font-size:24px"><i style="left:743.3px;top:380.0px">絵</i><i style="left:772.0px;top:380.0px">本</i><i style="left:800.6px;top:380.0px">読</i><i style="left:829.3px;top:380.0px">み</i><i style="left:858.0px;top:380.0px">聞</i><i style="left:886.6px;top:380.0px">か</i><i style="left:915.3px;top:380.0px">せ</i></div><div class="t" style="font-size:24px"><i style="left:813.3px;top:445.5px">検</i><i style="left:839.8px;top:445.5px">温</i><i style="left:860.4px;top:445.5px">·</i><i style="left:881.0px;top:445.5px">シ</i><i style="left:907.6px;top:445.5px">ャ</i><i style="left:934.2px;top:445.5px">ワ</i><i style="left:960.7px;top:445.5px">–</i></div><div class="t" style="font-size:24px"><i style="left:812.5px;top:488.5px">排</i><i style="left:837.4px;top:488.5px">泄</i><i style="left:856.6px;top:488.5px">·</i><i style="left:875.9px;top:488.5px">リ</i><i style="left:900.8px;top:488.5px">ト</i><i style="left:925.7px;top:488.5px">ミ</i><i style="left:950.6px;top:488.5px">ッ</i><i style="left:975.5px;top:488.5px">ク</i></div><div class="t" style="font-size:24px"><i style="left:814.4px;top:541.5px">設</i><i style="left:843.1px;top:541.5px">定</i><i style="left:871.9px;top:541.5px">保</i><i style="left:900.6px;top:541.5px">育</i></div><div class="t" style="font-size:24px"><i style="left:962.4px;top:541.5px">製</i><i style="left:993.1px;top:541.5px">作</i></div><div class="t" style="font-size:24px"><i style="left:816.4px;top:584.5px">戸</i><i style="left:845.1px;top:584.5px">外</i><i style="left:873.9px;top:584.5px">遊</i><i style="left:902.6px;top:584.5px">び</i></div><div class="t" style="font-size:24px"><i style="left:961.4px;top:584.5px">散</i><i style="left:990.2px;top:584.5px">歩</i></div><div class="t" style="font-size:24px"><i style="left:814.3px;top:627.5px">体</i><i style="left:843.0px;top:627.5px">操</i><i style="left:871.7px;top:627.5px">等</i></div><div class="t" style="font-size:24px"><i style="left:737.0px;top:690.0px">手</i><i style="left:764.5px;top:690.0px">洗</i><i style="left:792.0px;top:690.0px">い</i><i style="left:813.4px;top:690.0px">·</i><i style="left:834.7px;top:690.0px">う</i><i style="left:862.2px;top:690.0px">が</i><i style="left:889.7px;top:690.0px">い</i></div><div class="t" style="font-size:24px"><i style="left:946.0px;top:690.0px">排</i><i style="left:977.0px;top:690.0px">泄</i></div><div class="t" style="font-size:24px"><i style="left:736.1px;top:758.0px">昼</i><i style="left:765.2px;top:758.0px">食</i></div><div class="t" style="font-size:24px"><i style="left:825.6px;top:758.0px">歯</i><i style="left:852.9px;top:758.0px">み</i><i style="left:880.1px;top:758.0px">が</i><i style="left:907.4px;top:758.0px">き</i></div><div class="t" style="font-size:24px"><i style="left:793.1px;top:851.0px">午</i><i style="left:819.7px;top:851.0px">睡</i><i style="left:846.3px;top:851.0px">準</i><i style="left:872.9px;top:851.0px">備</i><i class="p" style="left:892.9px;top:851.0px">/</i><i style="left:912.9px;top:851.0px">シ</i><i style="left:939.5px;top:851.0px">ャ</i><i style="left:966.1px;top:851.0px">ワ</i><i style="left:992.7px;top:851.0px">–</i></div><div class="t" style="font-size:24px"><i style="left:794.1px;top:895.0px">着</i><i style="left:822.6px;top:895.0px">替</i><i style="left:851.1px;top:895.0px">え</i><i style="left:873.2px;top:895.0px">·</i><i style="left:895.3px;top:895.0px">絵</i><i style="left:923.9px;top:895.0px">本</i><i style="left:952.4px;top:895.0px">読</i><i style="left:980.9px;top:895.0px">み</i><i style="left:1009.5px;top:895.0px">聞</i><i style="left:1038.0px;top:895.0px">か</i><i style="left:1066.5px;top:895.0px">せ</i></div><div class="t" style="font-size:24px"><i style="left:793.2px;top:937.0px">排</i><i style="left:823.7px;top:937.0px">泄</i><i style="left:847.2px;top:937.0px">·</i><i style="left:870.8px;top:937.0px">検</i><i style="left:901.3px;top:937.0px">温</i></div><div class="t" style="font-size:24px"><i style="left:794.3px;top:980.0px">午</i><i style="left:823.5px;top:980.0px">睡</i></div><div class="t" style="font-size:24px"><i style="left:736.0px;top:1048.0px">起</i><i style="left:764.5px;top:1048.0px">床</i><i style="left:786.6px;top:1048.0px">·</i><i style="left:808.7px;top:1048.0px">お</i><i style="left:837.2px;top:1048.0px">む</i><i style="left:865.7px;top:1048.0px">つ</i><i style="left:894.2px;top:1048.0px">交</i><i style="left:922.7px;top:1048.0px">換</i></div><div class="t" style="font-size:24px"><i style="left:736.3px;top:1090.0px">排</i><i style="left:765.5px;top:1090.0px">泄</i><i style="left:788.1px;top:1090.0px">·</i><i style="left:810.7px;top:1090.0px">手</i><i style="left:839.9px;top:1090.0px">洗</i><i style="left:869.1px;top:1090.0px">い</i></div><div class="t" style="font-size:24px"><i style="left:777.0px;top:1163.0px">お</i><i style="left:805.1px;top:1163.0px">や</i><i style="left:833.2px;top:1163.0px">つ</i><i style="left:855.0px;top:1163.0px">·</i><i style="left:876.8px;top:1163.0px">着</i><i style="left:904.9px;top:1163.0px">替</i><i style="left:933.0px;top:1163.0px">え</i></div><div class="t" style="font-size:24px"><i style="left:736.9px;top:1239.0px">お</i><i style="left:764.8px;top:1239.0px">帰</i><i style="left:792.7px;top:1239.0px">り</i><i style="left:820.6px;top:1239.0px">の</i><i style="left:848.5px;top:1239.0px">会</i><i style="left:870.1px;top:1239.0px">·</i><i style="left:891.7px;top:1239.0px">検</i><i style="left:919.6px;top:1239.0px">温</i></div><div class="t" style="font-size:24px"><i style="left:544.4px;top:1350.0px">自</i><i style="left:575.1px;top:1350.0px">由</i><i style="left:605.9px;top:1350.0px">遊</i><i style="left:636.6px;top:1350.0px">び</i></div><div class="t" style="font-size:24px"><i style="left:465.0px;top:1454.0px">排</i><i style="left:495.0px;top:1454.0px">泄</i><i style="left:518.2px;top:1454.0px">·</i><i style="left:541.5px;top:1454.0px">お</i><i style="left:571.5px;top:1454.0px">む</i><i style="left:601.5px;top:1454.0px">つ</i><i style="left:631.5px;top:1454.0px">交</i><i style="left:661.5px;top:1454.0px">換</i><i style="left:684.8px;top:1454.0px">·</i><i style="left:708.0px;top:1454.0px">視</i><i style="left:738.0px;top:1454.0px">診</i></div><div class="t" style="font-size:24px"><i style="left:427.4px;top:1497.0px">絵</i><i style="left:457.3px;top:1497.0px">本</i><i style="left:487.2px;top:1497.0px">の</i><i style="left:517.1px;top:1497.0px">読</i><i style="left:547.0px;top:1497.0px">み</i><i style="left:576.8px;top:1497.0px">聞</i><i style="left:606.7px;top:1497.0px">か</i><i style="left:636.6px;top:1497.0px">せ</i><i style="left:659.8px;top:1497.0px">·</i><i style="left:682.9px;top:1497.0px">順</i><i style="left:712.8px;top:1497.0px">次</i><i style="left:742.7px;top:1497.0px">降</i><i style="left:772.6px;top:1497.0px">園</i></div><div class="t" style="font-size:24px"><i style="left:516.7px;top:1590.0px">延</i><i style="left:546.0px;top:1590.0px">長</i><i style="left:575.4px;top:1590.0px">保</i><i style="left:604.7px;top:1590.0px">育</i><i style="left:627.5px;top:1590.0px">·</i><i style="left:650.2px;top:1590.0px">お</i><i style="left:679.6px;top:1590.0px">や</i><i style="left:708.9px;top:1590.0px">つ</i></div><div class="t" style="font-size:24px"><i style="left:568.2px;top:1669.5px">閉</i></div><div class="t" style="font-size:24px"><i style="left:613.5px;top:1669.5px">園</i></div>
<div class="d" style="font-size:29px"><i style="left:164.8px;top:176.5px">7</i><i style="left:178.8px;top:176.5px">:</i><i style="left:192.8px;top:176.5px">0</i><i style="left:210.9px;top:176.5px">0</i></div><div class="d" style="font-size:29px"><i style="left:165.9px;top:285.5px">9</i><i style="left:179.6px;top:285.5px">:</i><i style="left:193.4px;top:285.5px">0</i><i style="left:211.1px;top:285.5px">0</i></div><div class="d" style="font-size:29px"><i style="left:165.9px;top:392.5px">9</i><i style="left:179.6px;top:392.5px">:</i><i style="left:193.4px;top:392.5px">3</i><i style="left:211.1px;top:392.5px">0</i></div><div class="d" style="font-size:29px"><i style="left:152.5px;top:559.5px">1</i><i style="left:169.6px;top:559.5px">0</i><i style="left:182.8px;top:559.5px">:</i><i style="left:196.0px;top:559.5px">3</i><i style="left:213.1px;top:559.5px">0</i></div><div class="d" style="font-size:29px"><i style="left:155.4px;top:668.5px">1</i><i style="left:172.1px;top:668.5px">0</i><i style="left:185.0px;top:668.5px">:</i><i style="left:197.9px;top:668.5px">4</i><i style="left:214.6px;top:668.5px">5</i></div><div class="d" style="font-size:29px"><i style="left:169.9px;top:837.5px">1</i><i style="left:185.6px;top:837.5px">1</i><i style="left:197.8px;top:837.5px">:</i><i style="left:210.0px;top:837.5px">3</i><i style="left:225.7px;top:837.5px">0</i></div><div class="d" style="font-size:29px"><i style="left:153.2px;top:1145.5px">1</i><i style="left:169.7px;top:1145.5px">5</i><i style="left:182.5px;top:1145.5px">:</i><i style="left:195.3px;top:1145.5px">0</i><i style="left:211.8px;top:1145.5px">0</i></div><div class="d" style="font-size:29px"><i style="left:1007.5px;top:276.5px">9</i><i style="left:1021.5px;top:276.5px">:</i><i style="left:1035.5px;top:276.5px">0</i><i style="left:1053.6px;top:276.5px">0</i></div><div class="d" style="font-size:29px"><i style="left:1051.9px;top:443.5px">9</i><i style="left:1066.3px;top:443.5px">:</i><i style="left:1080.8px;top:443.5px">3</i><i style="left:1099.4px;top:443.5px">0</i></div><div class="d" style="font-size:29px"><i style="left:1042.9px;top:525.5px">1</i><i style="left:1058.7px;top:525.5px">0</i><i style="left:1071.0px;top:525.5px">:</i><i style="left:1083.3px;top:525.5px">0</i><i style="left:1099.1px;top:525.5px">0</i></div><div class="d" style="font-size:29px"><i style="left:1005.4px;top:662.5px">1</i><i style="left:1022.2px;top:662.5px">0</i><i style="left:1035.2px;top:662.5px">:</i><i style="left:1048.3px;top:662.5px">5</i><i style="left:1065.1px;top:662.5px">0</i></div><div class="d" style="font-size:29px"><i style="left:984.0px;top:753.0px">1</i><i style="left:1000.1px;top:753.0px">1</i><i style="left:1012.5px;top:753.0px">:</i><i style="left:1024.9px;top:753.0px">0</i><i style="left:1041.0px;top:753.0px">0</i></div><div class="d" style="font-size:29px"><i style="left:1072.0px;top:838.5px">1</i><i style="left:1088.7px;top:838.5px">2</i><i style="left:1101.7px;top:838.5px">:</i><i style="left:1114.6px;top:838.5px">0</i><i style="left:1131.3px;top:838.5px">0</i></div><div class="d" style="font-size:29px"><i style="left:1056.0px;top:940.5px">1</i><i style="left:1074.0px;top:940.5px">2</i><i style="left:1088.0px;top:940.5px">:</i><i style="left:1102.0px;top:940.5px">3</i><i style="left:1120.0px;top:940.5px">0</i></div><div class="d" style="font-size:29px"><i style="left:969.1px;top:1046.2px">1</i><i style="left:986.0px;top:1046.2px">4</i><i style="left:999.1px;top:1046.2px">:</i><i style="left:1012.1px;top:1046.2px">3</i><i style="left:1029.0px;top:1046.2px">0</i></div><div class="d" style="font-size:29px"><i style="left:975.3px;top:1153.5px">1</i><i style="left:991.9px;top:1153.5px">5</i><i style="left:1004.7px;top:1153.5px">:</i><i style="left:1017.5px;top:1153.5px">0</i><i style="left:1034.1px;top:1153.5px">0</i></div><div class="d" style="font-size:29px"><i style="left:969.1px;top:1223.0px">1</i><i style="left:986.0px;top:1223.0px">5</i><i style="left:999.1px;top:1223.0px">:</i><i style="left:1012.1px;top:1223.0px">3</i><i style="left:1029.0px;top:1223.0px">0</i></div><div class="d" style="font-size:29px"><i style="left:320.0px;top:1314.5px">1</i><i style="left:336.8px;top:1314.5px">6</i><i style="left:349.8px;top:1314.5px">:</i><i style="left:362.8px;top:1314.5px">0</i><i style="left:379.6px;top:1314.5px">0</i></div><div class="d" style="font-size:29px"><i style="left:238.3px;top:1425.5px">1</i><i style="left:255.8px;top:1425.5px">7</i><i style="left:269.3px;top:1425.5px">:</i><i style="left:282.8px;top:1425.5px">0</i><i style="left:300.3px;top:1425.5px">0</i></div><div class="d" style="font-size:29px"><i style="left:396.0px;top:1562.5px">1</i><i style="left:412.5px;top:1562.5px">8</i><i style="left:425.4px;top:1562.5px">:</i><i style="left:438.2px;top:1562.5px">0</i><i style="left:454.7px;top:1562.5px">0</i></div><div class="d" style="font-size:29px"><i style="left:443.8px;top:1665.5px">1</i><i style="left:460.4px;top:1665.5px">9</i><i style="left:473.2px;top:1665.5px">:</i><i style="left:486.1px;top:1665.5px">0</i><i style="left:502.7px;top:1665.5px">0</i></div><div class="t" style="font-size:19px"><i style="left:1134px;top:945px">頃</i></div>
</body></html>
